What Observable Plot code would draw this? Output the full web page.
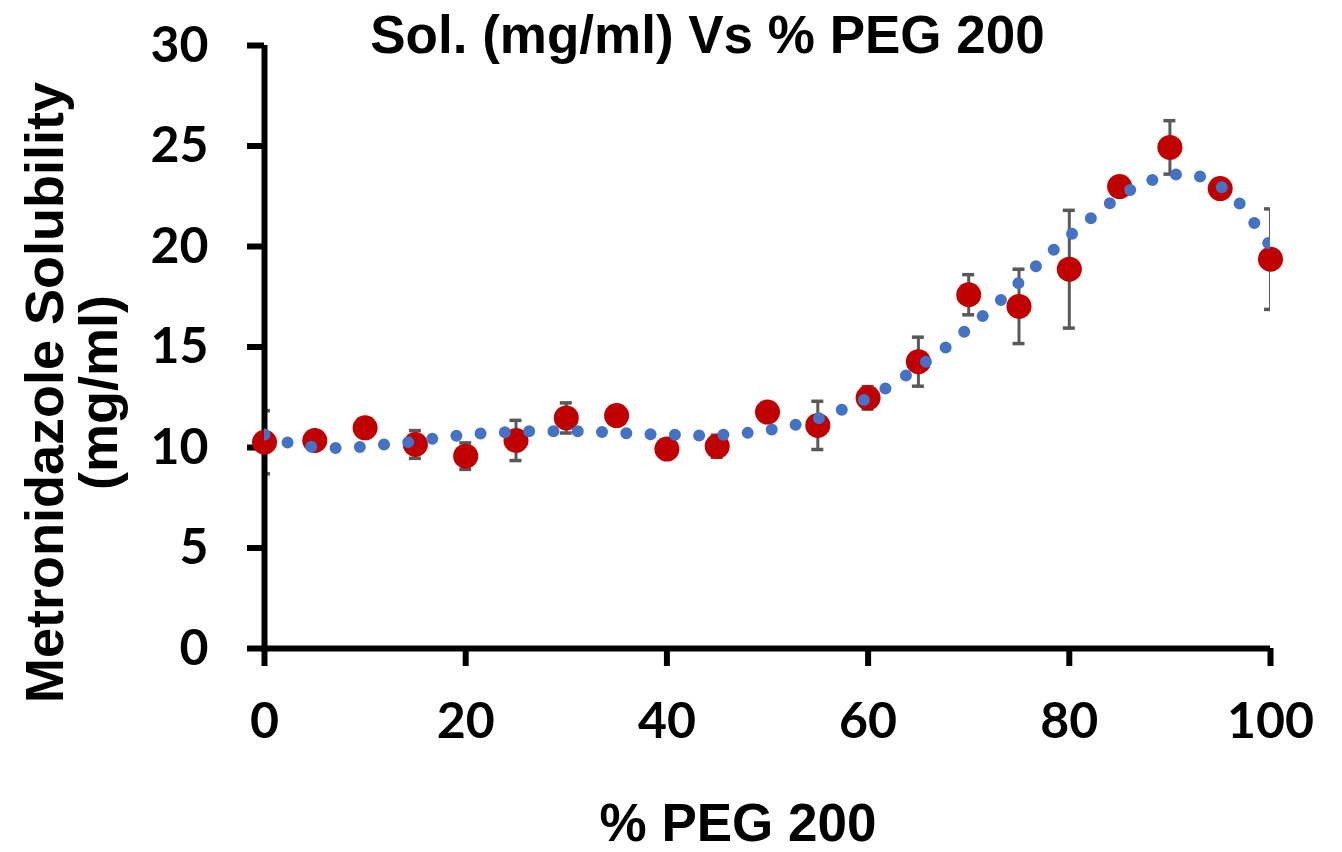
<!DOCTYPE html>
<html>
<head>
<meta charset="utf-8">
<script src="https://cdn.jsdelivr.net/npm/d3@7"></script>
<script src="https://cdn.jsdelivr.net/npm/@observablehq/plot@0.6"></script>
<style>
  html, body { margin: 0; padding: 0; background: #ffffff; }
  #wrap { position: relative; width: 1342px; height: 852px; overflow: hidden; }
  #title {
    position: absolute; top: 8px; left: 707.5px; transform: translateX(-50%);
    margin: 0; white-space: nowrap; line-height: 1;
    font-family: "Liberation Sans", Arial, sans-serif; font-weight: bold; font-size: 53px; color: #000;
  }
</style>
</head>
<body>
<div id="wrap">
  <div id="chart"></div>
  <h1 id="title">Sol. (mg/ml) Vs % PEG 200</h1>
</div>
<script>
// % PEG 200 (x) and measured solubility (mg/ml)
const peg = [0, 5, 10, 15, 20, 25, 30, 35, 40, 45, 50, 55, 60, 65, 70, 75, 80, 85, 90, 95, 100];
const solubility = [10.26, 10.35, 10.98, 10.15, 9.57, 10.35, 11.47, 11.59, 9.92, 10.06, 11.76, 11.1, 12.47, 14.27, 17.6, 17.02, 18.87, 22.98, 24.93, 22.88, 19.37];
const errorSD = [1.57, 0.4, 0.4, 0.69, 0.66, 1.0, 0.75, 0.4, 0.4, 0.55, 0.4, 1.2, 0.56, 1.22, 1.0, 1.85, 2.93, 0.4, 1.33, 0.4, 2.5];

// Trendline
const trendX = [0, 2.4, 4.7, 7.2, 9.6, 12.0, 14.5, 16.9, 19.3, 21.7, 24.2, 26.6, 29.1, 31.6, 34.0, 36.4, 38.8, 41.3, 43.7, 46.1, 48.6, 51.0, 53.4, 55.7, 58.0, 60.2, 62.4, 64.4, 66.4, 68.4, 70.2, 72.1, 73.9, 75.6, 77.4, 79.2, 81.1, 83.0, 84.9, 87.1, 89.4, 91.8, 94.1, 96.1, 97.7, 99.1, 100];
const trendY = [10.65, 10.23, 10.03, 9.98, 10.03, 10.15, 10.28, 10.45, 10.6, 10.7, 10.76, 10.81, 10.81, 10.81, 10.76, 10.7, 10.65, 10.63, 10.6, 10.65, 10.76, 10.95, 11.2, 11.56, 12.0, 12.52, 13.14, 13.8, 14.5, 15.25, 16.04, 16.84, 17.67, 18.5, 19.35, 20.17, 20.98, 21.74, 22.47, 23.07, 23.48, 23.6, 23.27, 22.57, 21.66, 20.64, 20.0];

const xTicks = [0, 20, 40, 60, 80, 100];
const yTicks = [0, 5, 10, 15, 20, 25, 30];
const xLabel = "% PEG 200";
const yLabel = "Metronidazole Solubility\n(mg/ml)";

const points = peg.map((x, i) => ({x, y: solubility[i], lo: solubility[i] - errorSD[i], hi: solubility[i] + errorSD[i]}));
const trend = trendX.map((x, i) => ({x, y: trendY[i]}));

const labelFont = "Liberation Sans, Arial, sans-serif";
const tickFont = "Lato, Carlito, Calibri, sans-serif";

const chart = Plot.plot({
  width: 1342,
  height: 852,
  marginLeft: 264,
  marginRight: 72,
  marginTop: 45,
  marginBottom: 204,
  style: {background: "#ffffff", color: "#000000", overflow: "visible"},
  x: {domain: [0, 100]},
  y: {domain: [0, 30]},
  marks: [
    // error bars
    Plot.ruleX(points, {x: "x", y1: "lo", y2: "hi", stroke: "#595959", strokeWidth: 3, clip: "frame"}),
    Plot.ruleY(points, {y: "hi", x1: "x", x2: "x", insetLeft: -6, insetRight: -6, stroke: "#595959", strokeWidth: 3.5, clip: "frame"}),
    Plot.ruleY(points, {y: "lo", x1: "x", x2: "x", insetLeft: -6, insetRight: -6, stroke: "#595959", strokeWidth: 3.5, clip: "frame"}),
    // axis lines
    Plot.ruleX([0], {stroke: "#000", strokeWidth: 6}),
    Plot.ruleY([0], {stroke: "#000", strokeWidth: 6}),
    Plot.axisX({ticks: xTicks, tickSize: 18, tickPadding: 36, strokeWidth: 6, stroke: "#000", fill: "#000",
      fontSize: 50, fontWeight: "bold", fontFamily: tickFont, label: null, tickFormat: d => String(d)}),
    Plot.axisY({ticks: yTicks, tickSize: 17, tickPadding: 39, strokeWidth: 6, stroke: "#000", fill: "#000",
      fontSize: 50, fontWeight: "bold", fontFamily: tickFont, label: null, tickFormat: d => String(d)}),
    // data markers
    Plot.dot(points, {x: "x", y: "y", r: 12.5, fill: "#C00000", stroke: "none"}),
    // dotted trendline
    Plot.line(trend, {x: "x", y: "y", curve: "catmull-rom", stroke: "#4472C4", strokeWidth: 12,
      strokeDasharray: "0 24.3", strokeLinecap: "round", clip: "frame"}),
    // axis titles
    Plot.text([xLabel], {frameAnchor: "bottom", dx: -29.5, dy: 192, lineAnchor: "bottom", textAnchor: "middle",
      fontSize: 53, fontWeight: "bold", fontFamily: labelFont, fill: "#000"}),
    Plot.text([yLabel], {frameAnchor: "left", dx: -192, dy: 45.5, rotate: -90, lineAnchor: "middle", textAnchor: "middle",
      lineHeight: 1, fontSize: 54, fontWeight: "bold", fontFamily: labelFont, fill: "#000"})
  ]
});

document.getElementById("chart").appendChild(chart);
</script>
</body>
</html>
